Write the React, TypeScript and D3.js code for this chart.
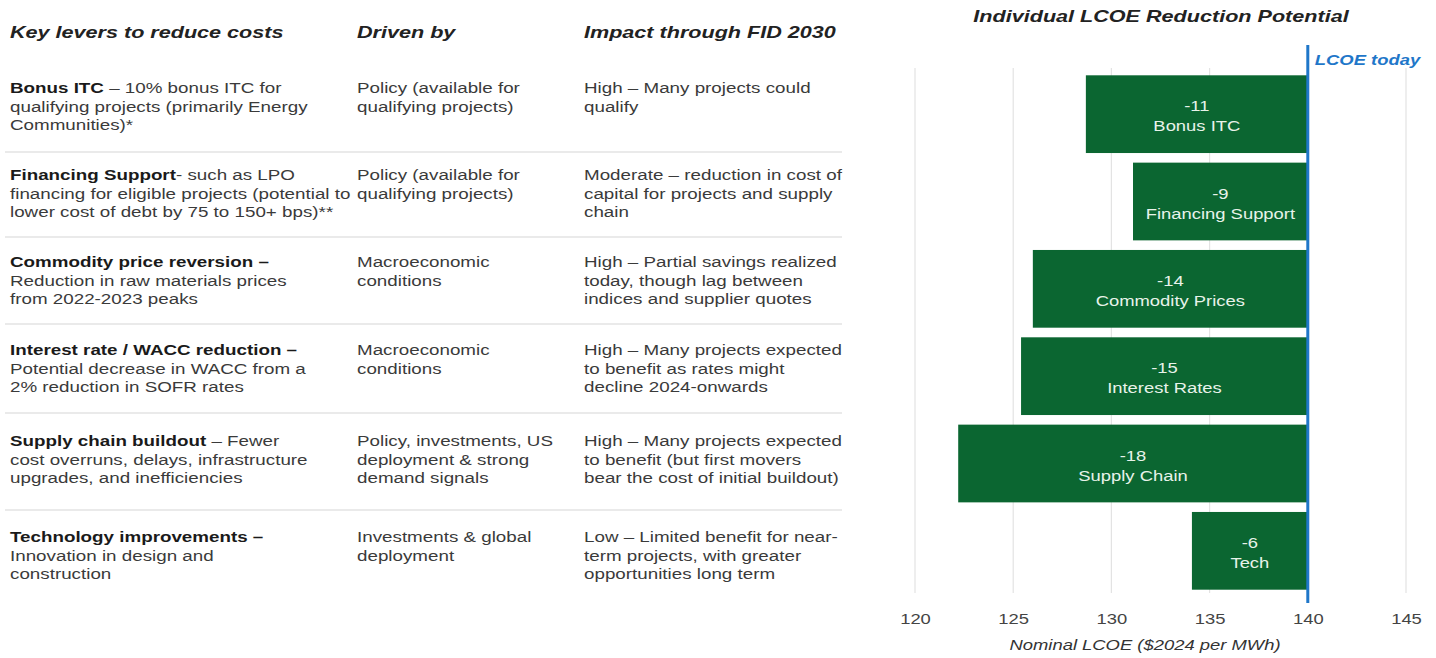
import React, { useEffect, useRef } from 'react'
import * as d3 from 'd3'

// chart data
const levers = ['Bonus ITC', 'Financing Support', 'Commodity Prices', 'Interest Rates', 'Supply Chain', 'Tech']
const reductions = [-11.3, -8.9, -14.0, -14.6, -17.8, -5.9]
const lcoeToday = 140
const xTicks = [120, 125, 130, 135, 140, 145]

// table text
const headers = ['Key levers to reduce costs', 'Driven by', 'Impact through FID 2030']
const leverTitles = ['Bonus ITC', 'Financing Support', 'Commodity price reversion –', 'Interest rate / WACC reduction –', 'Supply chain buildout', 'Technology improvements –']
const leverText = [
  [' – 10% bonus ITC for', 'qualifying projects (primarily Energy', 'Communities)*'],
  ['- such as LPO', 'financing for eligible projects (potential to', 'lower cost of debt by 75 to 150+ bps)**'],
  ['', 'Reduction in raw materials prices', 'from 2022-2023 peaks'],
  ['', 'Potential decrease in WACC from a', '2% reduction in SOFR rates'],
  [' – Fewer', 'cost overruns, delays, infrastructure', 'upgrades, and inefficiencies'],
  ['', 'Innovation in design and', 'construction'],
]
const drivenBy = [
  ['Policy (available for', 'qualifying projects)'],
  ['Policy (available for', 'qualifying projects)'],
  ['Macroeconomic', 'conditions'],
  ['Macroeconomic', 'conditions'],
  ['Policy, investments, US', 'deployment & strong', 'demand signals'],
  ['Investments & global', 'deployment'],
]
const impact = [
  ['High – Many projects could', 'qualify'],
  ['Moderate – reduction in cost of', 'capital for projects and supply', 'chain'],
  ['High – Partial savings realized', 'today, though lag between', 'indices and supplier quotes'],
  ['High – Many projects expected', 'to benefit as rates might', 'decline 2024-onwards'],
  ['High – Many projects expected', 'to benefit (but first movers', 'bear the cost of initial buildout)'],
  ['Low – Limited benefit for near-', 'term projects, with greater', 'opportunities long term'],
]

// layout
const W = 1436
const H = 658
const FONT = 'Liberation Sans, Arial, sans-serif'
const SX = 1.27 // the source is a bit stretched sideways
const colX = [10, 357, 584]
const rowTop = [93, 180, 267, 355, 446, 542]
const separators = [152, 237, 324, 413, 510]
const lineH = 18.6
const GREEN = '#0b6631'
const BLUE = '#1f77c9'

// text stretched horizontally around its anchor
const T = ({ x, y, sx = SX, children, ...rest }: any) => (
  <text transform={`translate(${x},${y}) scale(${sx},1)`} {...rest}>{children}</text>
)

const App = () => {
  const axisRef = useRef<SVGGElement>(null)

  const x = d3.scaleLinear().domain([120, 145]).range([915, 1406])
  const y = d3.scaleBand<string>()
    .domain(levers)
    .range([70.5, 594.5])
    .paddingInner(0.11)
    .paddingOuter(0.055)

  useEffect(() => {
    const g = d3.select(axisRef.current)
    g.call(d3.axisBottom(x).tickValues(xTicks).tickSize(0).tickPadding(0))
    g.select('.domain').remove()
    g.selectAll('text')
      .attr('font-family', FONT)
      .attr('font-size', 14.5)
      .attr('fill', '#444')
      .attr('dy', 0)
      .attr('transform', `scale(${SX},1)`)
  }, [])

  return (
    <svg width={W} height={H} style={{ position: 'absolute', left: 0, top: 0, background: '#fff' }}>
      {/* table */}
      {headers.map((h, i) => (
        <T key={h} x={colX[i]} y={38} fontFamily={FONT} fontSize={17} fontWeight="bold" fontStyle="italic" fill="#222">{h}</T>
      ))}
      {separators.map(s => (
        <line key={s} x1={5} x2={842} y1={s} y2={s} stroke="#d6d6d6" strokeWidth={1.2} />
      ))}
      {leverTitles.map((t, i) => (
        <g key={t} fontFamily={FONT} fontSize={14.8} fill="#3a3a3a">
          {leverText[i].map((line, j) => (
            <T key={j} x={colX[0]} y={rowTop[i] + j * lineH}>
              {j === 0 && <tspan fontWeight="bold" fill="#1a1a1a">{t}</tspan>}
              {line}
            </T>
          ))}
          {drivenBy[i].map((line, j) => (
            <T key={'d' + j} x={colX[1]} y={rowTop[i] + j * lineH}>{line}</T>
          ))}
          {impact[i].map((line, j) => (
            <T key={'m' + j} x={colX[2]} y={rowTop[i] + j * lineH}>{line}</T>
          ))}
        </g>
      ))}

      {/* chart */}
      <T x={1161} y={22} textAnchor="middle" fontFamily={FONT} fontSize={17} fontWeight="bold" fontStyle="italic" fill="#222">
        Individual LCOE Reduction Potential
      </T>
      {xTicks.filter(t => t !== lcoeToday).map(t => (
        <line key={t} x1={x(t)} x2={x(t)} y1={68} y2={593} stroke="#e3e3e3" strokeWidth={1.2} />
      ))}
      {levers.map((l, i) => {
        const x0 = x(lcoeToday + reductions[i])
        const x1 = x(lcoeToday)
        const yy = y(l) as number
        const cx = (x0 + x1) / 2
        const cy = yy + y.bandwidth() / 2
        return (
          <g key={l}>
            <rect x={x0} y={yy} width={x1 - x0} height={y.bandwidth()} fill={GREEN} />
            <T x={cx} y={cy - 3} textAnchor="middle" fontFamily={FONT} fontSize={14.5} fill="#e8f3ea">
              {Math.round(reductions[i])}
            </T>
            <T x={cx} y={cy + 17} textAnchor="middle" fontFamily={FONT} fontSize={14.5} fill="#e8f3ea">
              {l}
            </T>
          </g>
        )
      })}
      <line x1={x(lcoeToday)} x2={x(lcoeToday)} y1={45} y2={603} stroke={BLUE} strokeWidth={3} />
      <T x={x(lcoeToday) + 7} y={65} fontFamily={FONT} fontSize={14.5} fontWeight="bold" fontStyle="italic" fill={BLUE}>
        LCOE today
      </T>
      <g ref={axisRef} transform="translate(0,624)" />
      <T x={1145} y={650} textAnchor="middle" fontFamily={FONT} fontSize={14.5} fontStyle="italic" fill="#333">
        Nominal LCOE ($2024 per MWh)
      </T>
    </svg>
  )
}

export default App
